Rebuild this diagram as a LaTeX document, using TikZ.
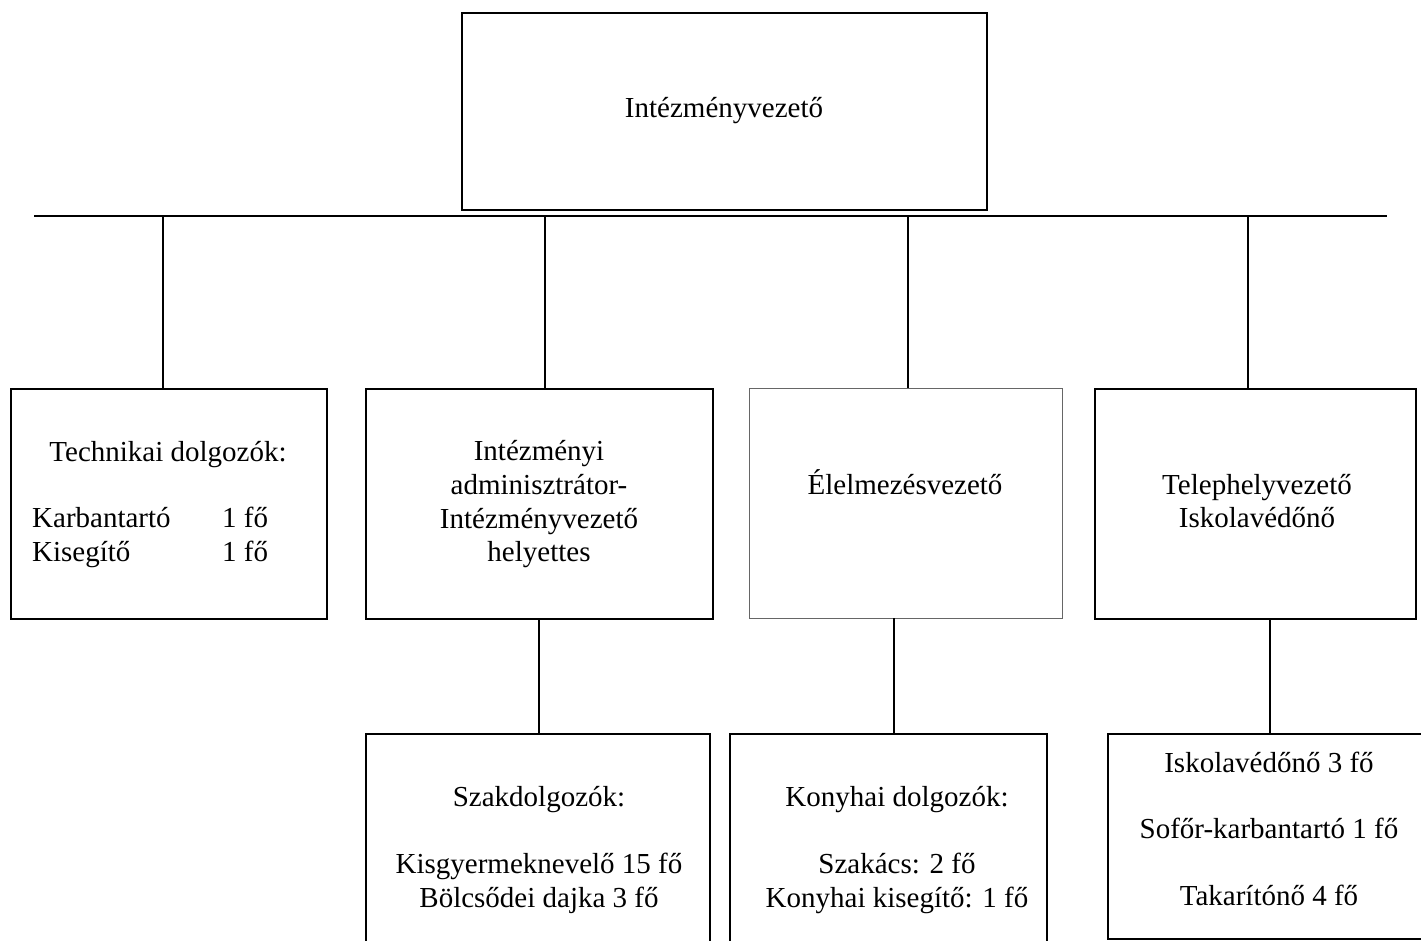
\documentclass[tikz,border=0pt]{standalone}
\usepackage{fontspec}
\setmainfont{Liberation Serif}
\begin{document}
\begin{tikzpicture}[x=1pt,y=-1pt,
  box/.style={draw=black, line width=1.8pt, inner sep=0pt, anchor=north west},
  grbox/.style={draw=black!60, line width=1.3pt, inner sep=0pt, anchor=north west},
  conn/.style={draw=black, line width=1.8pt},
  txt/.style={anchor=base, inner sep=0pt, font=\fontsize{29}{33}\selectfont},
  txtl/.style={anchor=base west, inner sep=0pt, font=\fontsize{29}{33}\selectfont}]
\useasboundingbox (0,0) rectangle (1421,940);
\clip (0,0) rectangle (1421,940);
\fill[white] (0,0) rectangle (1421,940);
% boxes
\node[box, minimum width=525, minimum height=197] (top) at (461,12) {};
\node[box, minimum width=316, minimum height=230] (b1) at (10,388) {};
\node[box, minimum width=347, minimum height=230] (b2) at (365,388) {};
\node[grbox, minimum width=313, minimum height=230] (b3) at (749,388) {};
\node[box, minimum width=321, minimum height=230] (b4) at (1094,388) {};
\node[box, minimum width=344, minimum height=260] (bA) at (365,733) {};
\node[box, minimum width=317, minimum height=260] (bB) at (729,733) {};
\node[box, minimum width=325, minimum height=205] (bC) at (1107,733) {};
% bar and connectors
\coordinate (barL) at (34,216);
\coordinate (barR) at (1387,216);
\draw[conn] (barL) -- (barR);
\coordinate (d1) at (163,216);
\coordinate (d2) at (545,216);
\coordinate (d3) at (908,216);
\coordinate (d4) at (1248,216);
\draw[conn] (d1) -- (d1 |- b1.north);
\draw[conn] (d2) -- (d2 |- b2.north);
\draw[conn] (d3) -- (d3 |- b3.north);
\draw[conn] (d4) -- (d4 |- b4.north);
\coordinate (u2) at (539,618);
\draw[conn] (u2) -- (u2 |- bA.north);
\coordinate (u3) at (894,618);
\draw[conn] (u3) -- (u3 |- bB.north);
\coordinate (u4) at (1270,618);
\draw[conn] (u4) -- (u4 |- bC.north);
% texts
\node[txt] (t0) at (724,117) {Intézményvezető};
\node[txt] (t1a) at (168,461) {Technikai dolgozók:};
\node[txtl] (t1b) at (32,527) {Karbantartó};
\node[txtl] (t1c) at (222,527) {1 fő};
\node[txtl] (t1d) at (32,561) {Kisegítő};
\node[txtl] (t1e) at (222,561) {1 fő};
\node[txt] (t2a) at (539,460) {Intézményi};
\node[txt] (t2b) at (539,494) {adminisztrátor-};
\node[txt] (t2c) at (539,528) {Intézményvezető};
\node[txt] (t2d) at (539,561) {helyettes};
\node[txt] (t3a) at (905,494) {Élelmezésvezető};
\node[txt] (t4a) at (1257,494) {Telephelyvezető};
\node[txt] (t4b) at (1257,527) {Iskolavédőnő};
\node[txt] (tAa) at (539,806) {Szakdolgozók:};
\node[txt] (tAb) at (539,873) {Kisgyermeknevelő 15 fő};
\node[txt] (tAc) at (539,907) {Bölcsődei dajka 3 fő};
\node[txt] (tBa) at (897,806) {Konyhai dolgozók:};
\node[txt] (tBb) at (897,873) {Szakács: 2 fő};
\node[txt] (tBc) at (897,907) {Konyhai kisegítő: 1 fő};
\node[txt] (tCa) at (1269,772) {Iskolavédőnő 3 fő};
\node[txt] (tCb) at (1269,838) {Sofőr-karbantartó 1 fő};
\node[txt] (tCc) at (1269,905) {Takarítónő 4 fő};
\end{tikzpicture}
\end{document}
